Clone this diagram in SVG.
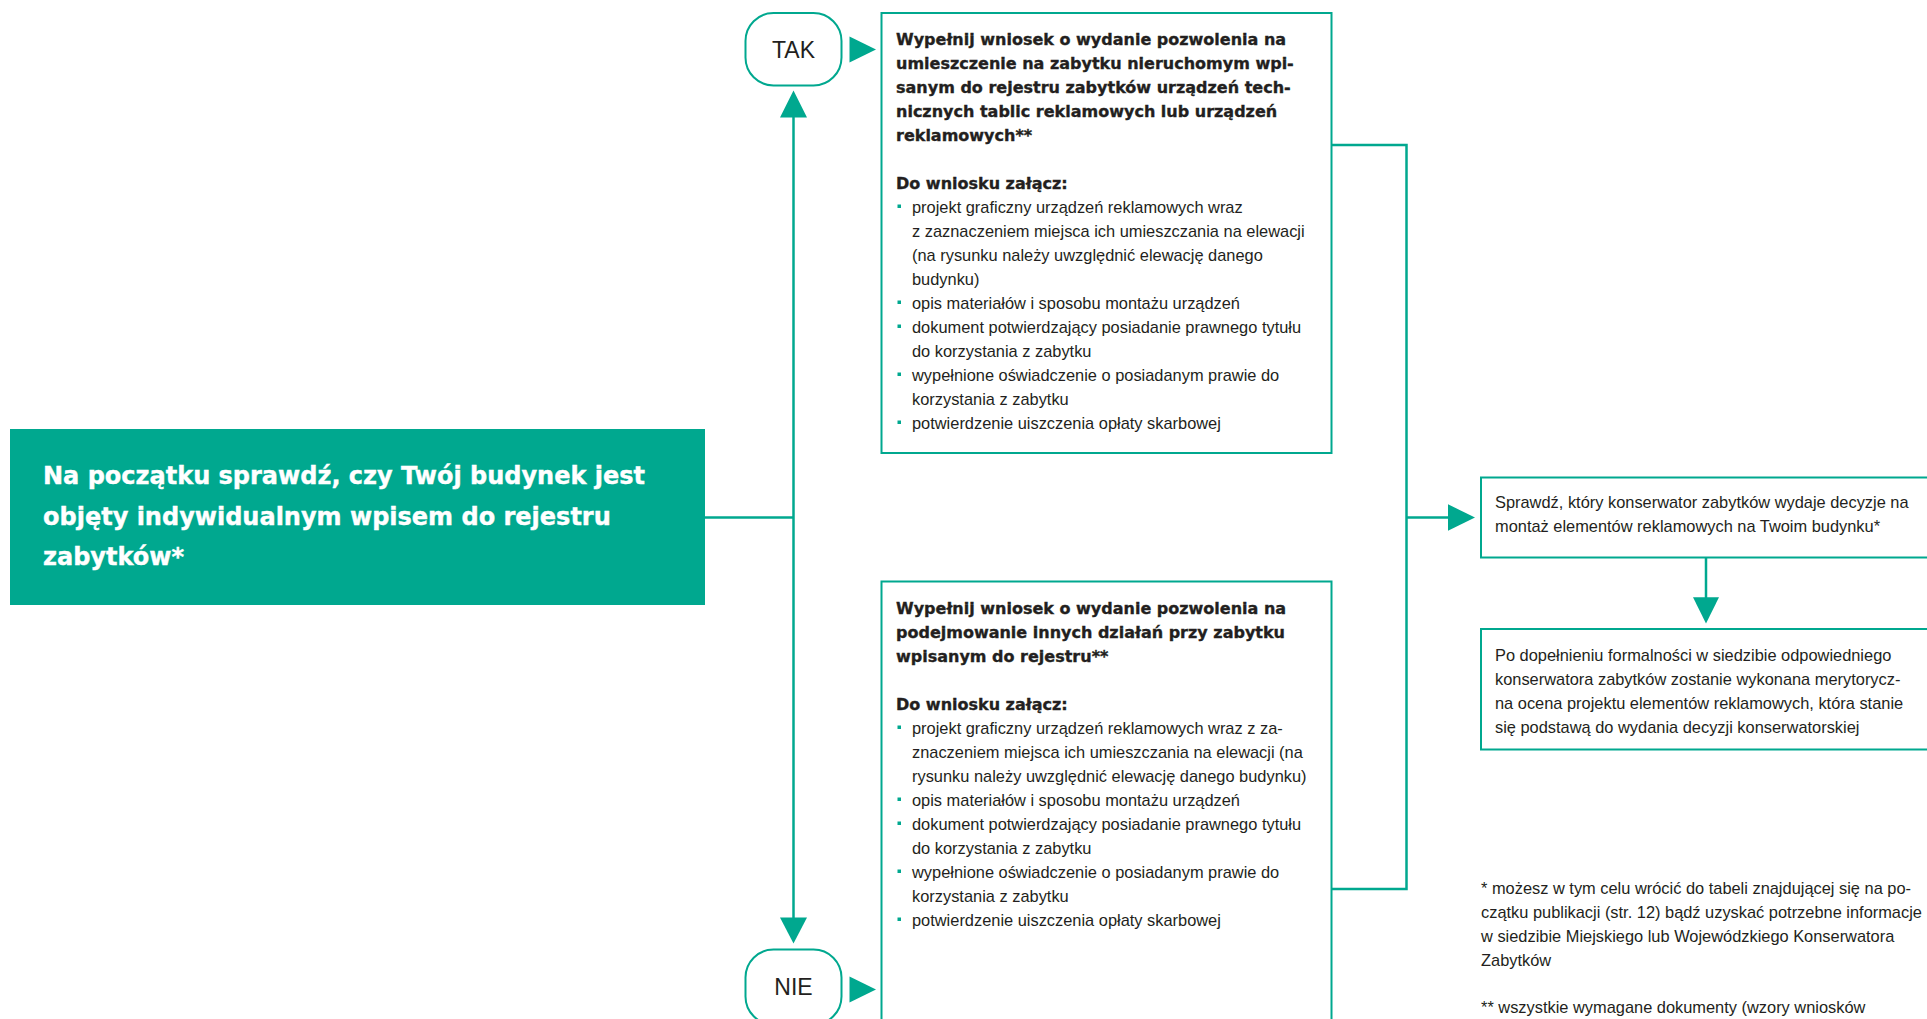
<svg xmlns="http://www.w3.org/2000/svg" width="1927" height="1019" viewBox="0 0 1927 1019">
<style>
.box{fill:#ffffff;stroke:#00a88f;stroke-width:2}
.pill{fill:#ffffff;stroke:#00a88f;stroke-width:2}
.ln{fill:none;stroke:#00a88f;stroke-width:2.5}
.ah{fill:#00a88f}
.h{font-family:"DejaVu Sans",sans-serif;font-weight:bold;font-size:16px;fill:#231f20;stroke:#231f20;stroke-width:0.35}
.t{font-family:"Liberation Sans",Arial,sans-serif;font-size:16.4px;fill:#231f20}
.pt{font-family:"Liberation Sans",Arial,sans-serif;font-size:23px;fill:#231f20;text-anchor:middle}
.title{font-family:"DejaVu Sans",sans-serif;font-weight:bold;font-size:24px;fill:#ffffff;stroke:#ffffff;stroke-width:0.4}
.b{fill:#00a88f}
</style>
<rect width="1927" height="1019" fill="#ffffff"/>

<g id="connectors">
  <polyline class="ln" points="705,517.5 793.5,517.5"/>
  <line class="ln" x1="793.5" y1="115" x2="793.5" y2="919"/>
  <polygon class="ah" points="780,117.5 807,117.5 793.5,90.5"/>
  <polygon class="ah" points="780,917.5 807,917.5 793.5,943.5"/>
  <polygon class="ah" points="849.5,36.5 849.5,62.5 876,49.5"/>
  <polygon class="ah" points="849.5,976.5 849.5,1002.5 876,989.5"/>
  <polyline class="ln" points="1331.5,145 1406.5,145 1406.5,889 1331.5,889"/>
  <line class="ln" x1="1406.5" y1="517.5" x2="1450" y2="517.5"/>
  <polygon class="ah" points="1448,504.3 1448,530.7 1475,517.5"/>
  <line class="ln" x1="1706" y1="557.5" x2="1706" y2="599"/>
  <polygon class="ah" points="1693,597.3 1719,597.3 1706,623.5"/>
</g>

<g id="node-start">
  <rect x="10" y="429" width="695" height="176" fill="#00a88f"/>
  <text class="title" x="43" y="484">Na początku sprawdź, czy Twój budynek jest</text>
  <text class="title" x="43" y="524.5">objęty indywidualnym wpisem do rejestru</text>
  <text class="title" x="43" y="565">zabytków*</text>
</g>

<g id="node-tak">
  <rect class="pill" x="745.5" y="13" width="96" height="72.5" rx="28" ry="28"/>
  <text class="pt" x="793.5" y="57.5">TAK</text>
</g>

<g id="node-nie">
  <rect class="pill" x="745.5" y="949.5" width="96" height="75" rx="28" ry="28"/>
  <text class="pt" x="793.5" y="995">NIE</text>
</g>

<g id="node-box-tak">
  <rect class="box" x="881.5" y="13" width="450" height="440"/>
  <text class="h" x="896" y="44.5">Wypełnij wniosek o wydanie pozwolenia na</text>
  <text class="h" x="896" y="68.5">umieszczenie na zabytku nieruchomym wpi-</text>
  <text class="h" x="896" y="92.5">sanym do rejestru zabytków urządzeń tech-</text>
  <text class="h" x="896" y="116.5">nicznych tablic reklamowych lub urządzeń</text>
  <text class="h" x="896" y="140.5">reklamowych**</text>
  <text class="h" x="896" y="188.5">Do wniosku załącz:</text>
  <rect class="b" x="897.5" y="204.5" width="3.5" height="3.5"/>
  <text class="t" x="912" y="212.5">projekt graficzny urządzeń reklamowych wraz</text>
  <text class="t" x="912" y="236.5">z zaznaczeniem miejsca ich umieszczania na elewacji</text>
  <text class="t" x="912" y="260.5">(na rysunku należy uwzględnić elewację danego</text>
  <text class="t" x="912" y="284.5">budynku)</text>
  <rect class="b" x="897.5" y="300.5" width="3.5" height="3.5"/>
  <text class="t" x="912" y="308.5">opis materiałów i sposobu montażu urządzeń</text>
  <rect class="b" x="897.5" y="324.5" width="3.5" height="3.5"/>
  <text class="t" x="912" y="332.5">dokument potwierdzający posiadanie prawnego tytułu</text>
  <text class="t" x="912" y="356.5">do korzystania z zabytku</text>
  <rect class="b" x="897.5" y="372.5" width="3.5" height="3.5"/>
  <text class="t" x="912" y="380.5">wypełnione oświadczenie o posiadanym prawie do</text>
  <text class="t" x="912" y="404.5">korzystania z zabytku</text>
  <rect class="b" x="897.5" y="420.5" width="3.5" height="3.5"/>
  <text class="t" x="912" y="428.5">potwierdzenie uiszczenia opłaty skarbowej</text>
</g>

<g id="node-box-nie">
  <rect class="box" x="881.5" y="581.5" width="450" height="480"/>
  <text class="h" x="896" y="613.5">Wypełnij wniosek o wydanie pozwolenia na</text>
  <text class="h" x="896" y="637.5">podejmowanie innych działań przy zabytku</text>
  <text class="h" x="896" y="661.5">wpisanym do rejestru**</text>
  <text class="h" x="896" y="709.5">Do wniosku załącz:</text>
  <rect class="b" x="897.5" y="725.5" width="3.5" height="3.5"/>
  <text class="t" x="912" y="733.5">projekt graficzny urządzeń reklamowych wraz z za-</text>
  <text class="t" x="912" y="757.5">znaczeniem miejsca ich umieszczania na elewacji (na</text>
  <text class="t" x="912" y="781.5">rysunku należy uwzględnić elewację danego budynku)</text>
  <rect class="b" x="897.5" y="797.5" width="3.5" height="3.5"/>
  <text class="t" x="912" y="805.5">opis materiałów i sposobu montażu urządzeń</text>
  <rect class="b" x="897.5" y="821.5" width="3.5" height="3.5"/>
  <text class="t" x="912" y="829.5">dokument potwierdzający posiadanie prawnego tytułu</text>
  <text class="t" x="912" y="853.5">do korzystania z zabytku</text>
  <rect class="b" x="897.5" y="869.5" width="3.5" height="3.5"/>
  <text class="t" x="912" y="877.5">wypełnione oświadczenie o posiadanym prawie do</text>
  <text class="t" x="912" y="901.5">korzystania z zabytku</text>
  <rect class="b" x="897.5" y="917.5" width="3.5" height="3.5"/>
  <text class="t" x="912" y="925.5">potwierdzenie uiszczenia opłaty skarbowej</text>
</g>

<g id="node-check">
  <rect class="box" x="1481" y="477.5" width="460" height="80"/>
  <text class="t" x="1495" y="508.3">Sprawdź, który konserwator zabytków wydaje decyzje na</text>
  <text class="t" x="1495" y="532">montaż elementów reklamowych na Twoim budynku*</text>
</g>

<g id="node-result">
  <rect class="box" x="1481" y="629" width="460" height="120.5"/>
  <text class="t" x="1495" y="660.5">Po dopełnieniu formalności w siedzibie odpowiedniego</text>
  <text class="t" x="1495" y="684.5">konserwatora zabytków zostanie wykonana merytorycz-</text>
  <text class="t" x="1495" y="708.5">na ocena projektu elementów reklamowych, która stanie</text>
  <text class="t" x="1495" y="732.5">się podstawą do wydania decyzji konserwatorskiej</text>
</g>

<g id="footnotes">
  <text class="t" x="1481" y="894">* możesz w tym celu wrócić do tabeli znajdującej się na po-</text>
  <text class="t" x="1481" y="918">czątku publikacji (str. 12) bądź uzyskać potrzebne informacje</text>
  <text class="t" x="1481" y="942">w siedzibie Miejskiego lub Wojewódzkiego Konserwatora</text>
  <text class="t" x="1481" y="966">Zabytków</text>
  <text class="t" x="1481" y="1013">** wszystkie wymagane dokumenty (wzory wniosków</text>
</g>
</svg>
